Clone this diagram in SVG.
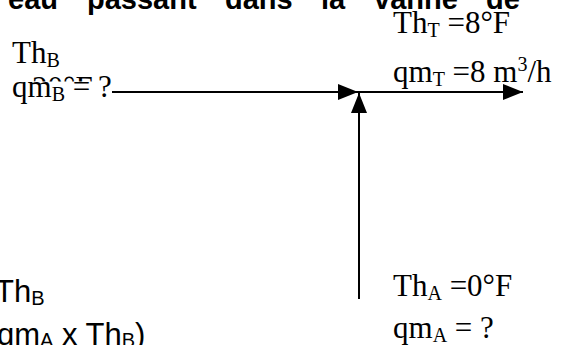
<svg xmlns="http://www.w3.org/2000/svg" width="565" height="345" viewBox="0 0 565 345">
  <style>
    .t { font-family: "Liberation Serif", "Times New Roman", serif; font-size: 31px; fill: #000; }
    .s { font-family: "Liberation Sans", Arial, sans-serif; font-size: 31px; fill: #000; }
    .h { font-family: "Liberation Sans", Arial, sans-serif; font-size: 29px; font-weight: bold; fill: #000; }
    .sub { font-size: 20px; }
    .ln { stroke: #000; stroke-width: 2; fill: none; }
  </style>
  <defs>
    <marker id="ah" viewBox="0 0 20 16" refX="20" refY="8" markerWidth="20" markerHeight="16" markerUnits="userSpaceOnUse" orient="auto">
      <path d="M0,0 L20,8 L0,16 Z" fill="#000"/>
    </marker>
    <clipPath id="topOnly"><rect x="0" y="60" width="130" height="21.5"/></clipPath>
  </defs>
  <rect width="565" height="345" fill="#fff"/>

  <g id="heading">
    <text class="h" y="9"><tspan x="8">eau</tspan><tspan x="87">passant</tspan><tspan x="225">dans</tspan><tspan x="321">la</tspan><tspan x="374">vanne</tspan><tspan x="486">de</tspan></text>
  </g>

  <g id="connectors">
    <line class="ln" x1="112" y1="92" x2="358" y2="92" marker-end="url(#ah)"/>
    <line class="ln" x1="358" y1="92" x2="523" y2="92" marker-end="url(#ah)"/>
    <line class="ln" x1="359" y1="299" x2="359" y2="93" marker-end="url(#ah)"/>
  </g>

  <g id="node-B">
    <text class="t" x="12" y="63">Th<tspan class="sub" dy="4">B</tspan></text>
    <text class="t" x="32" y="98" clip-path="url(#topOnly)">20°F</text>
    <text class="t" x="12" y="97">qm<tspan class="sub" dy="4">B</tspan><tspan dy="-4"> = ?</tspan></text>
  </g>

  <g id="node-T">
    <text class="t" x="393" y="33">Th<tspan class="sub" dy="4">T</tspan><tspan dy="-4"> =8°F</tspan></text>
    <text class="t" x="393" y="82">qm<tspan class="sub" dy="4">T</tspan><tspan dy="-4"> =8 m</tspan><tspan class="sub" dy="-11">3</tspan><tspan dy="11">/h</tspan></text>
  </g>

  <g id="node-A">
    <text class="t" x="393" y="296">Th<tspan class="sub" dy="4">A</tspan><tspan dy="-4"> =0°F</tspan></text>
    <text class="t" x="393" y="338">qm<tspan class="sub" dy="4">A</tspan><tspan dy="-4"> = ?</tspan></text>
  </g>

  <g id="formula">
    <text class="s" x="-5" y="302">Th<tspan class="sub" dy="3">B</tspan></text>
    <text class="s" x="-3" y="345">qm<tspan class="sub" dy="2">A</tspan><tspan dy="-2"> x Th</tspan><tspan class="sub" dy="2">B</tspan><tspan dy="-2">)</tspan></text>
  </g>
</svg>
